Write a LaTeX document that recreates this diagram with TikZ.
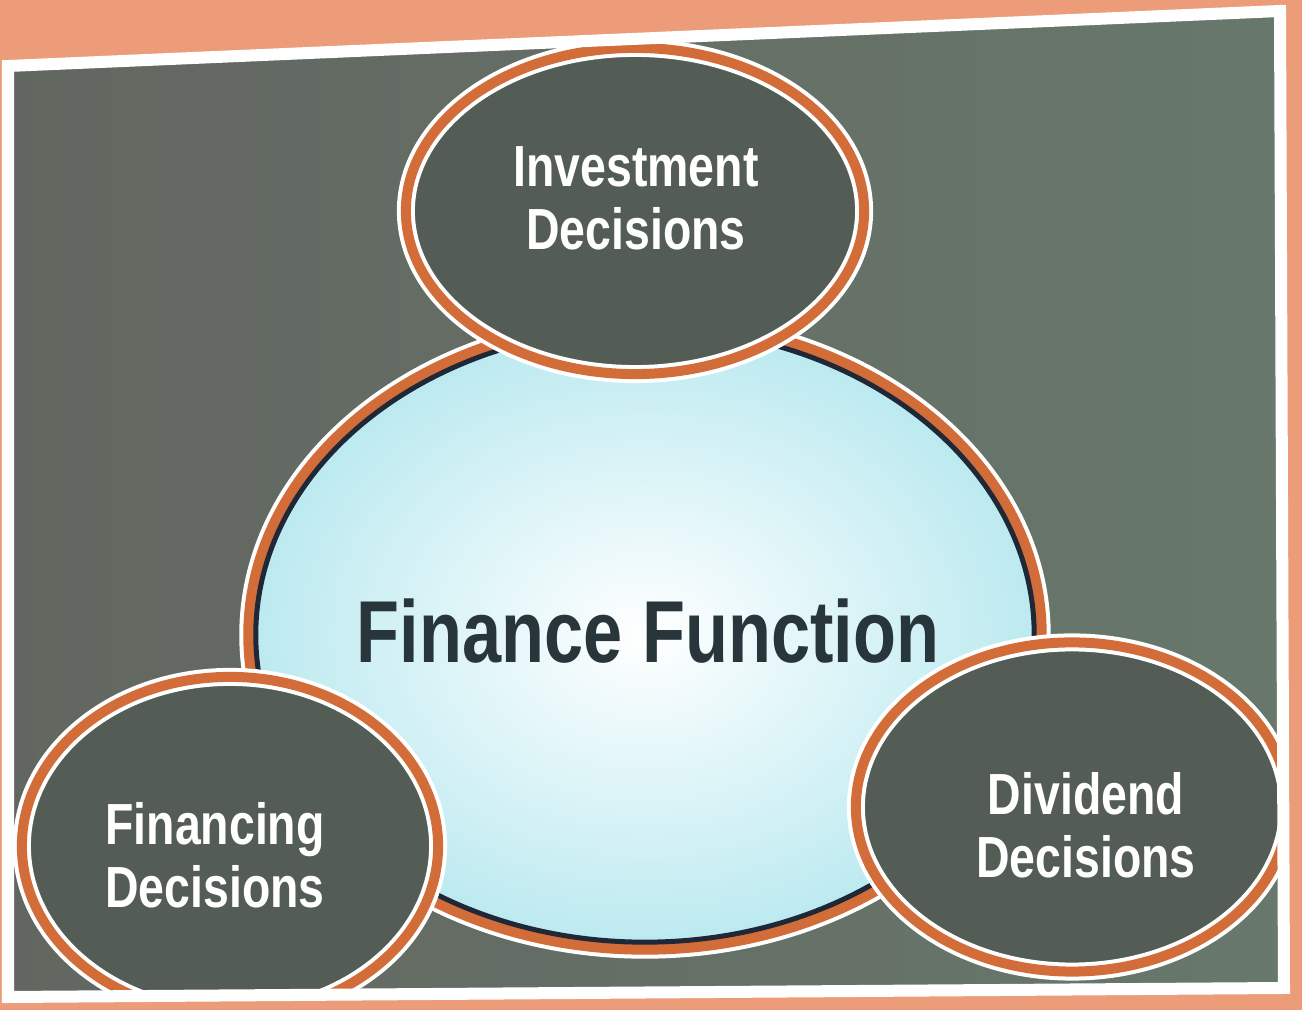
\documentclass[tikz,border=0pt]{standalone}
\usepackage{fontspec}
\setmainfont{Liberation Sans}[FakeStretch=0.8]
\usetikzlibrary{shapes.geometric}

\definecolor{salmon}{RGB}{236,156,120}
\definecolor{ringorange}{RGB}{210,108,56}
\definecolor{panelleft}{RGB}{98,102,96}
\definecolor{panelright}{RGB}{104,120,108}
\definecolor{discdark}{RGB}{84,92,86}
\definecolor{centrecyan}{RGB}{188,234,240}
\definecolor{inkslate}{RGB}{40,54,60}
\definecolor{ringnavy}{RGB}{30,40,55}

\begin{document}
\begin{tikzpicture}[x=0.01cm,y=-0.01cm,
  disc/.style={ellipse,inner sep=0pt,fill=discdark,draw=white,double=ringorange,
    line width=0.04cm,double distance=0.1cm},
  hub/.style={ellipse,inner sep=0pt,shading=radial,inner color=white,outer color=centrecyan,
    draw=ringnavy,line width=0.05cm,
    preaction={draw=white,line width=0.33cm},preaction={draw=ringorange,line width=0.25cm}},
  lbl/.style={align=center,text=white,font=\bfseries\fontsize{16.5}{17.9}\selectfont},
  title/.style={text=inkslate,font=\bfseries\fontsize{25}{30}\selectfont}]

\useasboundingbox (0,0) rectangle (1302,1010);
\fill[salmon] (0,0) rectangle (1302,1010);

\begin{scope}
\clip (8,66) -- (1280,11) -- (1284,988) -- (8,997) -- cycle;
\shade[left color=panelleft,right color=panelright] (0,0) rectangle (1302,1010);

% nodes
\node[hub,minimum width=7.78cm,minimum height=6.14cm] (fin) at (645,635) {};
\node[disc,minimum width=4.58cm,minimum height=3.26cm] (inv) at (635,211) {};
\node[disc,minimum width=4.16cm,minimum height=3.38cm] (fnc) at (230,846) {};
\node[disc,minimum width=4.32cm,minimum height=3.29cm] (div) at (1072,807) {};

% labels
\node[title] (fintext) at (648,631) {Finance Function};
\node[lbl] (invtext) at (636,198) {Investment\\Decisions};
\node[lbl] (fnctext) at (215,855) {Financing\\Decisions};
\node[lbl] (divtext) at (1086,825) {Dividend\\Decisions};
\end{scope}

% frame
\draw[white,line width=0.12cm] (8,66) -- (1280,11) -- (1284,988) -- (8,997) -- cycle;
\end{tikzpicture}
\end{document}
